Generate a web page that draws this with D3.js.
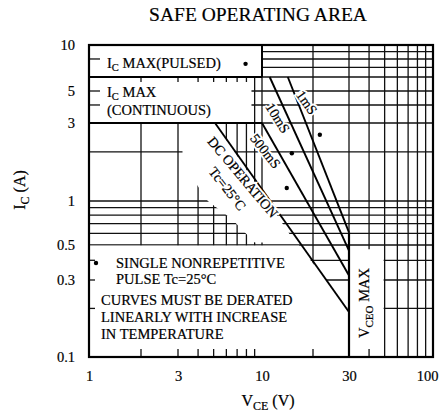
<!DOCTYPE html>
<html>
<head>
<meta charset="utf-8">
<script src="https://cdn.jsdelivr.net/npm/d3@7"></script>
<style>
body { margin: 0; background: #fff; }
text { font-family: "Liberation Serif", "Times New Roman", serif; fill: #000; }
.ink { stroke: #000; stroke-width: 0.2; }
</style>
</head>
<body>
<div id="plot"></div>
<script>
// tick labels
var xTicks = [1, 3, 10, 30, 100];
var yTicks = [10, 5, 3, 1, 0.5, 0.3, 0.1];
// log grid
var xGrid = [2, 3, 4, 5, 6, 7, 8, 9, 10, 20, 30, 40, 50, 60, 70, 80, 90];
var yGrid = [0.2, 0.3, 0.4, 0.5, 0.6, 0.7, 0.8, 0.9, 1, 2, 3, 4, 5, 6, 7, 8, 9];

// SOA limits (V, A)
var icPulsed = 6;
var icCont = 3;
var vceoMax = 30;
var curve1ms = [[14.2, 6], [30, 0.61]];
var curve10ms = [[11.1, 6], [30, 0.46]];
var curve500ms = [[10, 3], [30, 0.32]];
var curveDC = [[5.1, 3], [30, 0.19]];
var pulseMarks = [[7.9, 7.4], [21.6, 2.54], [15, 1.96], [14, 1.2]];

// little stubs where the grid is blanked by the label boxes
var bottomStubs = [2, 3, 4, 5, 6, 7, 8, 9, 20, 40];
var leftStubsBox = [8, 5, 4];
var leftStubsNote = [0.4, 0.3, 0.2];
var topStubsBox = [2, 3, 4, 5, 6, 7, 8];

var width = 445, height = 418;

var svg = d3.select("#plot").append("svg").attr("width", width).attr("height", height);

// the scanned chart is not exactly logarithmic, so pin the decades
var x = d3.scaleLog()
    .domain([1, 2, 3, 10, 20, 30, 100])
    .range([89, 141, 178, 262, 313, 349, 433]);
var y = d3.scaleLog()
    .domain([10, 6, 5, 3, 1, 0.5, 0.3, 0.1])
    .range([45, 77, 91, 123, 201, 245, 280, 357]);

var line = d3.line().x(function(d) { return x(d[0]); }).y(function(d) { return y(d[1]); });

// grid
var grid = svg.append("g").attr("stroke", "#111").attr("stroke-width", 1.3);
grid.selectAll(".vg").data(xGrid).enter().append("line")
    .attr("x1", function(d) { return x(d); }).attr("x2", function(d) { return x(d); })
    .attr("y1", y(10)).attr("y2", y(0.1));
grid.selectAll(".hg").data(yGrid).enter().append("line")
    .attr("x1", x(1)).attr("x2", x(100))
    .attr("y1", function(d) { return y(d); }).attr("y2", function(d) { return y(d); });

// white label areas
var masks = svg.append("g").attr("fill", "#fff");
masks.append("rect")
    .attr("x", x(1) + 1).attr("y", y(10) + 1)
    .attr("width", x(10) - x(1) - 2).attr("height", y(icPulsed) - y(10) - 2);
masks.append("rect")
    .attr("x", x(1) + 1).attr("y", y(icPulsed) + 1)
    .attr("width", x(8.6) - x(1) - 1).attr("height", y(icCont) - y(icPulsed) - 2);
masks.append("path")
    .attr("d", line([[1, 0.49], [16.3, 0.49], [30, 0.19], [30, 0.1], [1, 0.1]]) + "Z")
    .attr("transform", "translate(1,-1)");
masks.append("path")
    .attr("d", line([[3.2, 3], [5.1, 3], [15.7, 0.52], [9.0, 0.52], [6.5, 0.75], [4.6, 1.0], [3.2, 1.7]]) + "Z");
masks.append("rect")
    .attr("x", x(vceoMax) + 1).attr("y", y(0.47))
    .attr("width", x(50) - x(vceoMax) - 2).attr("height", y(0.1) - y(0.47) - 1);

// stubs
var stubs = svg.append("g").attr("stroke", "#111").attr("stroke-width", 1.3);
stubs.selectAll(".bs").data(bottomStubs).enter().append("line")
    .attr("x1", function(d) { return x(d); }).attr("x2", function(d) { return x(d); })
    .attr("y1", y(0.1)).attr("y2", y(0.1) - 8);
stubs.selectAll(".ls").data(leftStubsBox).enter().append("line")
    .attr("x1", x(1)).attr("x2", x(1) + 11)
    .attr("y1", function(d) { return y(d); }).attr("y2", function(d) { return y(d); });
stubs.selectAll(".ln").data(leftStubsNote).enter().append("line")
    .attr("x1", x(1)).attr("x2", x(1) + 6)
    .attr("y1", function(d) { return y(d); }).attr("y2", function(d) { return y(d); });
stubs.selectAll(".ts").data(topStubsBox).enter().append("line")
    .attr("x1", function(d) { return x(d); }).attr("x2", function(d) { return x(d); })
    .attr("y1", y(icPulsed)).attr("y2", y(icPulsed) + 5);

// frame
svg.append("rect")
    .attr("x", x(1)).attr("y", y(10))
    .attr("width", x(100) - x(1)).attr("height", y(0.1) - y(10))
    .attr("fill", "none").attr("stroke", "#000").attr("stroke-width", 2.2);

// SOA curves
var curves = svg.append("g").attr("fill", "none").attr("stroke", "#000").attr("stroke-width", 1.9);
[curve1ms, curve10ms, curve500ms, curveDC].forEach(function(c) {
    curves.append("path").attr("d", line(c));
});
curves.append("path").attr("d", line([[vceoMax, curve1ms[1][1]], [vceoMax, 0.1]])).attr("stroke-width", 2.2);
curves.append("path").attr("d", line([[1, icPulsed], [10, icPulsed]]));
curves.append("path").attr("d", line([[10, 10], [10, icPulsed]]));
curves.append("path").attr("d", line([[1, icCont], [10, icCont]]));

svg.selectAll(".pm").data(pulseMarks).enter().append("circle")
    .attr("cx", function(d) { return x(d[0]); }).attr("cy", function(d) { return y(d[1]); })
    .attr("r", 2.2).attr("fill", "#000");

// axes labels
var xAxis = svg.append("g")
    .attr("transform", "translate(0," + (y(0.1) + 11) + ")")
    .call(d3.axisBottom(x).tickValues(xTicks).tickSize(0).tickFormat(function(d) { return d; }));
xAxis.select(".domain").remove();
xAxis.selectAll("text").attr("font-size", 14.5).attr("font-family", "Liberation Serif").attr("class", "ink");
xAxis.selectAll(".tick").filter(function(d) { return d === 100; }).select("text").attr("dx", -6);

var yAxis = svg.append("g")
    .attr("transform", "translate(" + (x(1) - 11) + ",0)")
    .call(d3.axisLeft(y).tickValues(yTicks).tickSize(0).tickFormat(function(d) { return d; }));
yAxis.select(".domain").remove();
yAxis.selectAll("text").attr("font-size", 14.5).attr("font-family", "Liberation Serif").attr("class", "ink");

// title
svg.append("text").attr("x", 258).attr("y", 21).attr("text-anchor", "middle")
    .attr("font-size", 19.5).attr("class", "ink").text("SAFE OPERATING AREA");

// axis titles
var xt = svg.append("text").attr("x", 268).attr("y", 406).attr("text-anchor", "middle")
    .attr("font-size", 16).attr("class", "ink");
xt.append("tspan").text("V");
xt.append("tspan").attr("font-size", 12).attr("dy", 4).text("CE");
xt.append("tspan").attr("dy", -4).text("  (V)");

var yt = svg.append("text").attr("transform", "translate(25,190) rotate(-90)").attr("text-anchor", "middle")
    .attr("font-size", 16).attr("class", "ink");
yt.append("tspan").text("I");
yt.append("tspan").attr("font-size", 12).attr("dy", 4).text("C");
yt.append("tspan").attr("dy", -4).text("  (A)");

// box labels
var t1 = svg.append("text").attr("x", 107).attr("y", 68).attr("font-size", 14.5).attr("class", "ink");
t1.append("tspan").text("I");
t1.append("tspan").attr("font-size", 10.5).attr("dy", 3).text("C");
t1.append("tspan").attr("dy", -3).text(" MAX(PULSED)");

var t2 = svg.append("text").attr("x", 107).attr("y", 97).attr("font-size", 14.5).attr("class", "ink");
t2.append("tspan").text("I");
t2.append("tspan").attr("font-size", 10.5).attr("dy", 3).text("C");
t2.append("tspan").attr("dy", -3).text(" MAX");
svg.append("text").attr("x", 107).attr("y", 115).attr("font-size", 14.5).attr("class", "ink").text("(CONTINUOUS)");

// notes
var notes = ["SINGLE NONREPETITIVE", "PULSE Tc=25\u00b0C"];
var notes2 = ["CURVES MUST BE DERATED", "LINEARLY WITH INCREASE", "IN TEMPERATURE"];
svg.append("circle").attr("cx", 96).attr("cy", 263).attr("r", 2.2).attr("fill", "#000");
notes.forEach(function(s, i) {
    svg.append("text").attr("x", 116).attr("y", 268 + i * 16).attr("font-size", 14.5).attr("class", "ink").text(s);
});
notes2.forEach(function(s, i) {
    svg.append("text").attr("x", 101).attr("y", 305 + i * 17).attr("font-size", 14.5).attr("class", "ink").text(s);
});

// curve labels
var curveLabels = [
    {t: "1mS", v: 18.4, i: 4.17, a: 55},
    {t: "10mS", v: 12.4, i: 3.25, a: 58},
    {t: "500mS", v: 10.5, i: 2.02, a: 52},
    {t: "DC OPERATION", v: 7.6, i: 1.4, a: 50},
    {t: "Tc=25\u00b0C", v: 6.1, i: 1.19, a: 52}
];
curveLabels.forEach(function(d) {
    var tr = "translate(" + x(d.v) + "," + y(d.i) + ") rotate(" + d.a + ")";
    svg.append("text").attr("transform", tr)
        .attr("text-anchor", "middle").attr("dy", "0.35em").attr("font-size", 14)
        .attr("stroke", "#fff").attr("stroke-width", 4).text(d.t);
    svg.append("text").attr("transform", tr)
        .attr("text-anchor", "middle").attr("dy", "0.35em").attr("font-size", 14)
        .attr("class", "ink").text(d.t);
});

var vl = svg.append("text").attr("transform", "translate(369,303) rotate(-90)").attr("text-anchor", "middle")
    .attr("font-size", 14.5).attr("class", "ink");
vl.append("tspan").text("V");
vl.append("tspan").attr("font-size", 11).attr("dy", 4).text("CEO");
vl.append("tspan").attr("dy", -4).text(" MAX");
</script>
</body>
</html>
